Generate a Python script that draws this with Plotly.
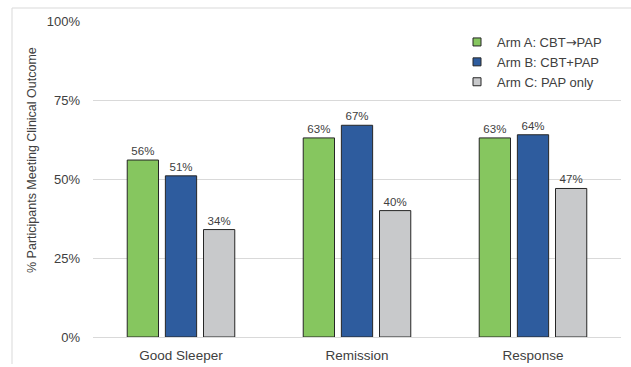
import plotly.graph_objects as go

categories = ["Good Sleeper", "Remission", "Response"]
arm_names = ["Arm A: CBT\u2192PAP", "Arm B: CBT+PAP", "Arm C: PAP only"]
arm_a = [56, 63, 63]
arm_b = [51, 67, 64]
arm_c = [34, 40, 47]
series = [arm_a, arm_b, arm_c]
colors = ["#86C65F", "#2E5C9E", "#C8C9CB"]
y_ticks = [0, 25, 50, 75, 100]
y_tick_labels = ["0%", "25%", "50%", "75%", "100%"]
y_title = "% Participants Meeting Clinical Outcome"

W, H = 631, 367
FONT = "Liberation Sans, Arial, sans-serif"
TXT = "#404040"
EDGE = "#262626"


def legend_label(s):
    # render the arrow with a font that has a full-size glyph
    return s.replace("\u2192", '<span style="font-family:DejaVu Sans">\u2192</span>')


fig = go.Figure()
for name, vals, col in zip(arm_names, series, colors):
    fig.add_trace(go.Bar(
        x=categories, y=vals, name=name, showlegend=False,
        marker=dict(color=col, line=dict(color=EDGE, width=1)),
        text=[f"{v}%" for v in vals], textposition="outside",
        textfont=dict(size=11.5, color=TXT, family=FONT),
        cliponaxis=False,
    ))
# legend entries (small outlined squares like the reference)
for name, col in zip(arm_names, colors):
    fig.add_trace(go.Scatter(
        x=[None], y=[None], mode="markers", name=legend_label(name),
        marker=dict(symbol="square", size=8, color=col, line=dict(color=EDGE, width=1)),
    ))

x0, x1 = 93 / W, 621 / W
y0, y1 = 1 - 337 / H, 1 - 21 / H

fig.update_layout(
    width=W, height=H,
    margin=dict(l=0, r=0, t=0, b=0),
    paper_bgcolor="white", plot_bgcolor="white",
    barmode="group", bargap=0.35, bargroupgap=0.18,
    font=dict(family=FONT, size=12, color=TXT),
    xaxis=dict(domain=[x0, x1], showline=True, linecolor="#D9D9D9", linewidth=1,
               ticks="", tickfont=dict(size=13.5, color=TXT), ticklabelstandoff=6,
               automargin=False),
    yaxis=dict(domain=[y0, y1], range=[0, 100], tickvals=y_ticks, ticktext=y_tick_labels,
               showgrid=True, gridcolor="#D9D9D9", gridwidth=1, zeroline=False,
               showline=False, ticks="", tickfont=dict(size=13, color=TXT),
               ticklabelstandoff=12, automargin=False),
    legend=dict(x=457 / W, y=1 - 27 / H, xanchor="left", yanchor="top",
                font=dict(size=13, color=TXT, family=FONT), itemwidth=30,
                bgcolor="rgba(0,0,0,0)"),
    annotations=[
        dict(text=y_title, textangle=-90, xref="paper", yref="paper",
             x=32 / W, y=1 - 160 / H, xanchor="center", yanchor="middle",
             showarrow=False, font=dict(size=12.5, color=TXT, family=FONT)),
    ],
    shapes=[
        dict(type="line", xref="paper", yref="paper", x0=12 / W, x1=1, y0=1 - 8 / H, y1=1 - 8 / H,
             line=dict(color="#D9D9D9", width=1)),
        dict(type="line", xref="paper", yref="paper", x0=12 / W, x1=12 / W, y0=1 - 8 / H, y1=1 - 364 / H,
             line=dict(color="#D9D9D9", width=1)),
    ],
)

fig.write_html("out.html")
